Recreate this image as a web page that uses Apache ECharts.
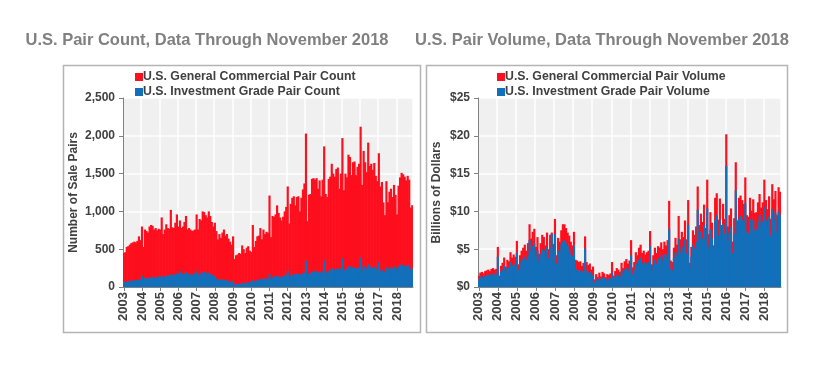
<!DOCTYPE html>
<html>
<head>
<meta charset="utf-8">
<script src="https://cdn.jsdelivr.net/npm/echarts@6/dist/echarts.min.js"></script>
<style>html,body{margin:0;padding:0;background:#fff}#c{width:834px;height:387px}</style>
</head>
<body>
<div id="c"></div>
<script>
const years = ['2003','2004','2005','2006','2007','2008','2009','2010','2011','2012','2013','2014','2015','2016','2017','2018'];
const countTicks = [0, 500, 1000, 1500, 2000, 2500];
const volumeTicks = [0, 5, 10, 15, 20, 25];

const generalCount = [
 450,460,530,540,560,580,590,600,590,610,670,620,
 800,530,760,740,720,800,820,810,760,780,750,770,
 760,920,700,760,830,780,770,1020,790,780,850,960,
 800,880,780,800,860,940,760,780,760,740,750,760,
 960,760,900,880,1000,990,950,920,1000,940,860,800,
 850,740,630,700,650,720,760,680,700,640,600,560,
 670,370,420,430,450,440,550,500,450,520,540,480,
 460,820,530,610,670,680,780,630,760,700,730,720,
 1210,660,940,930,960,1080,980,920,880,930,1000,1060,
 1330,840,1100,1180,1200,1080,1190,1200,1000,1180,1290,1370,
 2030,870,1220,1230,1430,1440,1420,1440,1300,1410,1200,1420,
 1860,1230,1190,1430,1460,1630,1500,1460,1560,1580,1300,1500,
 1970,1280,1500,1450,1750,1720,1480,1650,1660,1480,1590,1630,
 2120,1350,1800,1650,1520,1910,1600,1630,1550,1640,1470,1400,
 1770,1330,1390,1120,950,1400,1120,1260,1300,1190,1350,1220,
 960,1340,1450,1510,1490,1460,1410,1470,1420,1050,1080
];
const investCount = [
 60,65,70,75,80,80,85,90,85,90,100,95,
 150,90,120,110,115,120,130,125,120,130,125,140,
 130,150,120,140,150,145,140,170,160,150,165,180,
 170,210,160,170,175,200,160,170,165,160,170,180,
 210,150,180,175,190,200,185,180,190,170,160,140,
 150,110,95,100,90,100,95,90,85,75,70,60,
 80,30,40,40,45,40,55,50,45,55,60,55,
 70,90,70,80,90,95,110,90,110,105,110,115,
 170,100,130,130,140,150,140,130,130,140,150,160,
 210,130,150,160,170,160,175,175,150,170,180,190,
 350,130,180,180,200,210,200,210,190,200,180,210,
 350,190,180,210,220,250,230,225,240,245,210,240,
 380,210,240,230,270,270,240,260,260,240,250,260,
 390,220,280,260,240,300,260,265,250,270,240,230,
 330,210,230,200,200,260,220,250,260,240,270,250,
 230,270,290,300,280,280,270,290,280,230,240
];
const generalVolume = [
 1.5,1.9,2.0,1.8,2.1,2.2,2.3,2.1,2.4,2.5,2.3,2.4,
 5.3,1.5,2.8,3.2,3.9,2.7,3.6,3.4,4.6,3.9,4.3,4.0,
 6.1,3.0,4.2,4.8,5.2,5.6,4.8,5.8,8.3,6.4,7.3,7.7,
 5.3,6.6,4.4,5.8,6.9,6.6,5.5,7.2,5.0,6.9,7.2,5.7,
 9.0,4.2,6.5,6.0,7.5,8.3,8.3,7.8,7.2,6.8,6.0,5.5,
 7.3,3.6,3.5,3.3,3.4,2.8,3.2,6.7,3.3,2.9,3.1,2.3,
 2.7,1.0,1.7,1.3,1.9,1.4,2.0,1.8,1.3,1.7,1.6,1.8,
 3.3,1.5,2.1,2.5,2.3,2.0,3.2,2.5,3.4,3.7,3.1,3.5,
 6.2,2.6,3.3,4.6,4.2,5.2,5.6,4.5,4.8,4.3,4.6,4.8,
 7.4,3.0,4.2,5.2,4.5,5.4,5.2,5.9,5.0,6.0,5.5,6.2,
 11.4,3.5,3.3,5.2,6.5,5.6,9.4,6.3,7.3,6.6,8.8,6.3,
 11.5,3.2,5.3,7.5,6.9,8.0,13.3,8.2,9.7,8.6,10.9,7.8,
 14.2,7.0,9.9,8.5,5.5,11.8,12.4,8.9,11.7,8.2,11.0,9.0,
 20.2,8.0,9.5,10.4,6.0,9.1,16.5,8.8,11.8,12.1,11.5,11.0,
 14.5,9.5,9.3,11.8,10.1,11.6,9.8,9.9,11.2,12.3,10.5,11.2,
 14.2,11.5,10.3,12.0,9.0,13.6,11.6,12.7,9.5,13.2,12.6
];
const investVolume = [
 1.0,1.4,1.3,1.3,1.5,1.5,1.6,1.5,1.7,1.8,1.6,1.7,
 4.0,1.1,2.0,2.3,2.8,1.9,2.6,2.5,3.3,2.8,3.0,2.8,
 4.5,2.3,3.1,3.5,3.7,4.0,3.6,4.2,6.2,4.7,5.4,5.8,
 3.9,4.8,3.3,4.3,5.0,4.8,4.1,5.3,3.8,5.2,7.0,4.3,
 7.0,3.1,4.8,4.5,5.6,6.0,6.2,5.8,5.4,5.0,4.4,4.1,
 5.5,2.4,2.3,2.1,2.2,1.9,2.1,5.1,2.2,1.9,2.0,1.5,
 1.6,0.6,1.0,0.8,1.2,0.9,1.3,1.2,0.8,1.1,1.0,1.2,
 1.9,0.9,1.3,1.6,1.5,1.3,2.1,1.6,2.3,2.5,2.0,2.4,
 4.2,1.7,2.2,3.1,2.8,3.6,3.9,3.1,3.3,2.9,3.1,3.3,
 5.4,2.1,2.9,3.6,3.1,3.8,3.7,4.2,3.5,4.3,3.9,4.4,
 7.7,2.4,2.2,3.8,4.6,4.1,6.4,4.5,5.3,4.8,6.3,4.5,
 8.2,2.6,4.0,5.6,5.1,6.0,10.2,6.1,7.3,6.4,8.2,5.9,
 10.4,5.3,7.6,6.4,4.8,8.8,9.5,6.8,8.9,6.2,8.3,7.0,
 16.0,6.1,7.2,7.9,4.5,7.0,12.8,6.8,9.0,9.4,8.9,8.5,
 11.1,7.3,7.1,9.0,7.8,8.9,7.5,7.6,8.6,9.5,8.1,8.7,
 10.6,8.8,7.9,9.3,6.8,10.3,8.9,9.8,7.3,10.0,9.5
];

const months = [];
years.forEach(y => { for (let m = 1; m <= 12; m++) months.push(y + '-' + (m < 10 ? '0' + m : m)); });
const categories = months.slice(0, generalCount.length);

const RED = '#fe0f1e', BLUE = '#1270bb';
const FONT = 'Liberation Sans, Arial, sans-serif';
const txt = '#404040';

function xAxis(gi) {
  return {
    type: 'category', gridIndex: gi, data: categories, boundaryGap: true,
    axisLine: {lineStyle: {color: '#808080', width: 1}},
    axisTick: {show: true, alignWithLabel: true, interval: (i) => i % 12 === 0, length: 4, lineStyle: {color: '#808080'}},
    axisLabel: {interval: (i) => i % 12 === 0, rotate: 90, formatter: v => v.slice(0, 4),
      color: txt, fontFamily: FONT, fontWeight: 'bold', fontSize: 13, margin: 5},
    splitLine: {show: true, interval: (i) => i % 12 === 0, lineStyle: {color: '#ffffff', width: 1.5}}
  };
}
function yAxis(gi, ticks, fmt, name, gap) {
  return {
    type: 'value', gridIndex: gi, min: ticks[0], max: ticks[ticks.length - 1],
    interval: ticks[1] - ticks[0],
    name: name, nameLocation: 'middle', nameGap: gap, nameRotate: 90,
    nameTextStyle: {color: txt, fontFamily: FONT, fontWeight: 'bold', fontSize: 12},
    axisLine: {show: true, lineStyle: {color: '#808080'}},
    axisTick: {show: true, length: 4, lineStyle: {color: '#808080'}},
    axisLabel: {formatter: fmt, color: txt, fontFamily: FONT, fontWeight: 'bold', fontSize: 12, margin: 8},
    splitLine: {show: true, lineStyle: {color: '#ffffff', width: 1.5}}
  };
}
function bars(name, data, color, gi) {
  return {
    type: 'bar', name: name, data: data, xAxisIndex: gi, yAxisIndex: gi,
    itemStyle: {color: color}, barWidth: 2.2, barGap: '-100%', animation: false
  };
}

const chart = echarts.init(document.getElementById('c'), null, {renderer: 'canvas'});
chart.setOption({
  animation: false,
  backgroundColor: '#ffffff',
  title: [
    {text: 'U.S. Pair Count, Data Through November 2018', left: 202, top: 27, textAlign: 'center',
      textStyle: {color: '#808080', fontFamily: FONT, fontWeight: 'bold', fontSize: 16.5}},
    {text: 'U.S. Pair Volume, Data Through November 2018', left: 597, top: 27, textAlign: 'center',
      textStyle: {color: '#808080', fontFamily: FONT, fontWeight: 'bold', fontSize: 16.5}}
  ],
  graphic: [
    {type: 'rect', shape: {x: 63.5, y: 65.5, width: 357, height: 267}, style: {fill: 'none', stroke: '#b4b4b4', lineWidth: 1.5}, z: -1},
    {type: 'rect', shape: {x: 426.5, y: 65.5, width: 361, height: 267}, style: {fill: 'none', stroke: '#b4b4b4', lineWidth: 1.5}, z: -1}
  ],
  legend: [
    {data: ['U.S. General Commercial Pair Count', 'U.S. Investment Grade Pair Count'],
      orient: 'vertical', left: 130, top: 66, itemWidth: 8, itemHeight: 8, itemGap: 3, icon: 'rect',
      textStyle: {color: txt, fontFamily: FONT, fontWeight: 'bold', fontSize: 12.3, padding: [0, 0, 0, -5]}},
    {data: ['U.S. General Commercial Pair Volume', 'U.S. Investment Grade Pair Volume'],
      orient: 'vertical', left: 492, top: 66, itemWidth: 8, itemHeight: 8, itemGap: 3, icon: 'rect',
      textStyle: {color: txt, fontFamily: FONT, fontWeight: 'bold', fontSize: 12.3, padding: [0, 0, 0, -5]}}
  ],
  grid: [
    {left: 123, right: 421, top: 98, bottom: 100, show: true, backgroundColor: '#f0f0f0', borderWidth: 0},
    {left: 478, right: 53, top: 98, bottom: 100, show: true, backgroundColor: '#f0f0f0', borderWidth: 0}
  ],
  xAxis: [xAxis(0), xAxis(1)],
  yAxis: [
    yAxis(0, countTicks, v => v.toLocaleString('en-US'), 'Number of Sale Pairs', 43),
    yAxis(1, volumeTicks, v => '$' + v, 'Billions of Dollars', 35)
  ],
  series: [
    bars('U.S. General Commercial Pair Count', generalCount, RED, 0),
    bars('U.S. Investment Grade Pair Count', investCount, BLUE, 0),
    bars('U.S. General Commercial Pair Volume', generalVolume, RED, 1),
    bars('U.S. Investment Grade Pair Volume', investVolume, BLUE, 1)
  ]
});
</script>
</body>
</html>
